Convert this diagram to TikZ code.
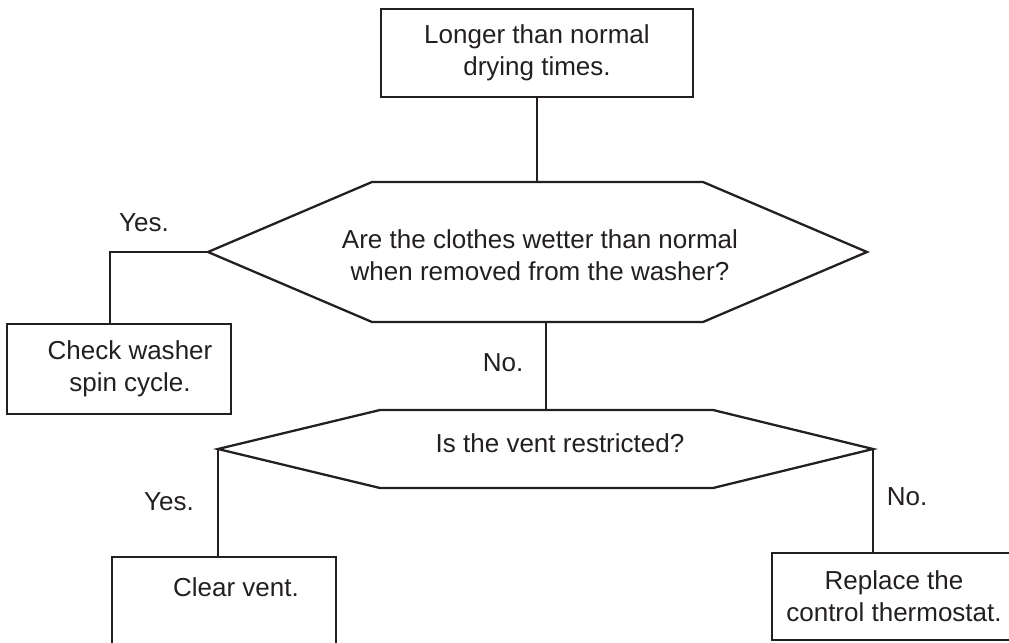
\documentclass[tikz,border=0pt]{standalone}
\usepackage{fontspec}
\setmainfont{Liberation Sans}
\definecolor{ink}{RGB}{35,31,32}
\newcommand\pxu{0.02cm}

\begin{document}
\begin{tikzpicture}[x=0.02cm, y=0.02cm, color=ink, line width=1.3pt,
	every node/.style={font=\fontsize{14.8}{18}\selectfont, align=center},
	box/.style={draw, rectangle, inner sep=0pt}]
	\useasboundingbox (0,0) rectangle (1009,-643);
	\clip (0,0) rectangle (1009,-643);
	% boxes
	\node[box, minimum width=312*\pxu, minimum height=88*\pxu] (start) at (537,-53) {Longer than normal\\drying times.};
	\node[box, minimum width=224*\pxu, minimum height=90*\pxu, label={[xshift=11*\pxu]center:{Check washer\\spin cycle.}}] (spin) at (119,-369) {};
	\node[box, minimum width=224*\pxu, minimum height=90*\pxu, label={[xshift=12*\pxu, yshift=15*\pxu]center:{Clear vent.}}] (clear) at (224,-602) {};
	\node[box, minimum width=244*\pxu, minimum height=87*\pxu] (thermo) at (894,-596.5) {Replace the\\control thermostat.};
	% questions
	\node (wet) at (540,-255) {Are the clothes wetter than normal\\when removed from the washer?};
	\draw ([shift={(-168,73)}]wet.center) coordinate (wetTL) -- ++(331,0) -- ++(164,-70) coordinate (wetR)
		-- ++(-164,-70) -- ++(-331,0) coordinate (wetBL) -- ++(-164,70) coordinate (wetL) -- cycle;
	\node (vent) at (560,-443) {Is the vent restricted?};
	\draw ([shift={(-180,33)}]vent.center) -- ++(166,0) coordinate (ventT) -- ++(167,0) -- ++(160,-39) coordinate (ventR)
		-- ++(-160,-39) -- ++(-333,0) -- ++(-162,39) coordinate (ventL) -- cycle;
	% connectors
	\draw (start.south) -- (start.south |- wetTL);
	\draw (wetL) -| ([xshift=-9*\pxu]spin.north);
	\draw (wetBL -| ventT) -- (ventT);
	\draw (ventL) -- (ventL |- clear.north);
	\draw (ventR) -- (ventR |- thermo.north);
	% answers
	\node (yesA) at (144,-223) {Yes.};
	\node (noA) at (503,-363) {No.};
	\node (yesB) at (169,-502) {Yes.};
	\node (noB) at (907,-497) {No.};
\end{tikzpicture}
\end{document}
